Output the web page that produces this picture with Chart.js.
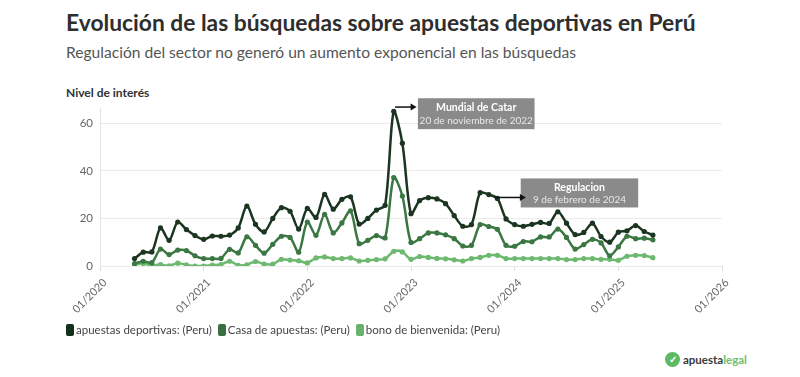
<!DOCTYPE html>
<html lang="es">
<head>
<meta charset="utf-8">
<title>Evolución de las búsquedas sobre apuestas deportivas en Perú</title>
<script src="https://cdn.jsdelivr.net/npm/chart.js@4.4.1/dist/chart.umd.min.js"></script>
<style>
  html, body { margin: 0; padding: 0; background: #fff; }
  body { width: 800px; height: 377px; position: relative; overflow: hidden;
         font-family: Lato, "Open Sans", sans-serif; color: #333; }
  .title { position: absolute; left: 66px; top: 8px; font-size: 22.8px; font-weight: 700;
           color: #2e2e2e; white-space: nowrap; }
  .subtitle { position: absolute; left: 66px; top: 43px; font-size: 15.6px; color: #555; white-space: nowrap; }
  .axis-title { position: absolute; left: 66px; top: 85px; font-size: 12px; font-weight: 700; color: #333; }
  .chart-box { position: absolute; left: 0; top: 0; width: 800px; height: 330px; }
  .legend { position: absolute; left: 66px; top: 323px; display: flex; font-size: 11.5px; color: #444; }
  .legend span { display: flex; align-items: center; margin-right: 6px; white-space: nowrap; }
  .legend i { display: inline-block; width: 8px; height: 12px; border-radius: 2px; margin-right: 2px; }
  .logo { position: absolute; left: 665px; top: 352px; display: flex; align-items: center;
          font-size: 11.5px; font-weight: 700; }
  .logo b { display: inline-block; width: 15px; height: 15px; border-radius: 50%; background: #5db962;
            color: #fff; font-size: 10px; line-height: 15px; text-align: center; margin-right: 3px; }
  .logo .a { color: #3a3a3a; }
  .logo .l { color: #6cc072; }
</style>
</head>
<body>
<div class="title">Evolución de las búsquedas sobre apuestas deportivas en Perú</div>
<div class="subtitle">Regulación del sector no generó un aumento exponencial en las búsquedas</div>
<div class="axis-title">Nivel de interés</div>
<div class="chart-box"><canvas id="chart"></canvas></div>
<div class="legend" id="legend"></div>
<div class="logo"><b>&#10003;</b><span class="a">apuesta</span><span class="l">legal</span></div>

<script>
// ---- data (monthly Google Trends style interest) ----
var months = [
  "2020-05", "2020-06", "2020-07", "2020-08", "2020-09", "2020-10", "2020-11", "2020-12",
  "2021-01", "2021-02", "2021-03", "2021-04", "2021-05", "2021-06", "2021-07", "2021-08", "2021-09", "2021-10", "2021-11", "2021-12",
  "2022-01", "2022-02", "2022-03", "2022-04", "2022-05", "2022-06", "2022-07", "2022-08", "2022-09", "2022-10", "2022-11", "2022-12",
  "2023-01", "2023-02", "2023-03", "2023-04", "2023-05", "2023-06", "2023-07", "2023-08", "2023-09", "2023-10", "2023-11", "2023-12",
  "2024-01", "2024-02", "2024-03", "2024-04", "2024-05", "2024-06", "2024-07", "2024-08", "2024-09", "2024-10", "2024-11", "2024-12",
  "2025-01", "2025-02", "2025-03", "2025-04", "2025-05"
];

var apuestasDeportivas = [
  3.1, 5.8, 5.9, 16, 10.8, 18.5, 15.3, 12.8,
  11.2, 12.6, 12.5, 13, 16, 25.2, 17.5, 14.3, 20, 24.5, 23, 15.5,
  24.2, 20.4, 30.1, 23.9, 28, 29.1, 17.6, 20, 23.5, 25.5, 65, 51.6,
  22, 27.5, 28.7, 28.2, 26.2, 21.2, 16.7, 17.4, 30.8, 30, 28.4, 19.8,
  17.4, 16.7, 17.5, 18.3, 17.9, 22.8, 18, 13.2, 14.1, 18, 12.4, 10,
  14.2, 14.8, 17, 14.5, 13
];

var casaDeApuestas = [
  1.0, 2.0, 1.4, 7.1, 4.8, 6.7, 6.5, 4.3,
  3.1, 3.1, 3.2, 7.0, 5.5, 12.3, 8.7, 5.4, 9.1, 12.5, 12, 5.8,
  18.5, 12.9, 21.7, 13.9, 18.1, 23.2, 9.4, 10.8, 12.8, 11.8, 37.2, 29.4,
  9.9, 11.5, 13.9, 13.9, 13.1, 11.5, 8.4, 8.7, 17.4, 16.6, 15.4, 8.7,
  8.3, 10.3, 10.2, 12.2, 12.2, 15.5, 12, 7.1, 9, 11.2, 9.7, 4.3,
  8.0, 12.5, 11.5, 11.7, 11
];

var bonoDeBienvenida = [
  0.6, 1.0, 0.3, 0.6, 0.1, 1.2, 0.5, 0.0,
  0.0, 0.4, 0.6, 2.0, 0.3, 0.5, 1.9, 0.8, 0.8, 2.8, 2.5, 2.2,
  1.3, 3.4, 3.8, 3.1, 3.1, 3.4, 2.1, 2.4, 2.7, 3.0, 6.2, 5.9,
  2.8, 4.0, 3.6, 3.2, 3.0, 2.6, 2.1, 3.1, 3.6, 4.5, 4.5, 3.1,
  3.1, 3.1, 3.1, 3.1, 3.1, 3.1, 2.7, 2.7, 3.1, 3.1, 2.8, 2.8,
  2.4, 4.1, 4.5, 4.4, 3.5
];

var seriesNames = ["apuestas deportivas: (Peru)", "Casa de apuestas: (Peru)", "bono de bienvenida: (Peru)"];
var xTickLabels = ["01/2020", "01/2021", "01/2022", "01/2023", "01/2024", "01/2025", "01/2026"];
var yTicks = [0, 20, 40, 60];

// ---- styling ----
var colors = ["#1b3520", "#3b7742", "#6cb96f"];
var legendColors = ["#15301a", "#3a6e40", "#68b36b"];
var gridColor = "#ebebeb";
var tickColor = "#666";
var FONT = "Lato, 'Open Sans', sans-serif";

// annotations, in data units (x = months since 01/2020, y = interest)
var notes = [
  { title: "Mundial de Catar", date: "20 de noviembre de 2022",
    from: [34.15, 66.8], to: [36.65, 66.8], box: [36.8, 70.5, 50.3, 57.5] },
  { title: "Regulacion", date: "9 de febrero de 2024",
    from: [45.7, 28.8], to: [49.3, 28.8], box: [48.7, 36.8, 62.3, 24.6] }
];

function monthIndex(s) {
  var p = s.split("-");
  return (parseInt(p[0], 10) - 2020) * 12 + parseInt(p[1], 10) - 1;
}

function toPoints(values) {
  return values.map(function (v, i) { return { x: monthIndex(months[i]), y: v }; });
}

var allSeries = [apuestasDeportivas, casaDeApuestas, bonoDeBienvenida];
var datasets = allSeries.map(function (vals, i) {
  return {
    label: seriesNames[i],
    data: toPoints(vals),
    borderColor: colors[i],
    backgroundColor: colors[i],
    borderWidth: 2.5,
    pointRadius: 2.6,
    pointHoverRadius: 3,
    pointBorderWidth: 0,
    tension: 0.3
  };
});

// legend (html)
var legendEl = document.getElementById("legend");
seriesNames.forEach(function (name, i) {
  var s = document.createElement("span");
  s.innerHTML = '<i style="background:' + legendColors[i] + '"></i>' + name;
  legendEl.appendChild(s);
});

var notesPlugin = {
  id: "notes",
  afterDatasetsDraw: function (chart) {
    var ctx = chart.ctx, xs = chart.scales.x, ys = chart.scales.y;
    ctx.save();
    notes.forEach(function (n) {
      var bx1 = xs.getPixelForValue(n.box[0]), by1 = ys.getPixelForValue(n.box[1]);
      var bx2 = xs.getPixelForValue(n.box[2]), by2 = ys.getPixelForValue(n.box[3]);
      ctx.fillStyle = "rgba(128,128,128,0.92)";
      ctx.fillRect(bx1, by1, bx2 - bx1, by2 - by1);

      var cx = (bx1 + bx2) / 2, h = by2 - by1;
      ctx.textAlign = "center";
      ctx.textBaseline = "middle";
      ctx.fillStyle = "#fff";
      ctx.font = "700 10.5px " + FONT;
      ctx.fillText(n.title, cx, by1 + h * 0.3);
      ctx.fillStyle = "#e9e9e9";
      ctx.font = "400 10px " + FONT;
      ctx.fillText(n.date, cx, by1 + h * 0.74);

      // arrow
      var ax1 = xs.getPixelForValue(n.from[0]), ay = ys.getPixelForValue(n.from[1]);
      var ax2 = xs.getPixelForValue(n.to[0]);
      ctx.strokeStyle = "#111";
      ctx.fillStyle = "#111";
      ctx.lineWidth = 1.5;
      ctx.beginPath();
      ctx.moveTo(ax1, ay);
      ctx.lineTo(ax2 - 4, ay);
      ctx.stroke();
      ctx.beginPath();
      ctx.moveTo(ax2, ay);
      ctx.lineTo(ax2 - 6, ay - 3.5);
      ctx.lineTo(ax2 - 6, ay + 3.5);
      ctx.closePath();
      ctx.fill();
    });
    ctx.restore();
  }
};

new Chart(document.getElementById("chart").getContext("2d"), {
  type: "line",
  data: { datasets: datasets },
  options: {
    responsive: true,
    maintainAspectRatio: false,
    animation: false,
    layout: { padding: { top: 108, right: 78, bottom: 0, left: 60 } },
    plugins: { legend: { display: false }, tooltip: { enabled: false } },
    scales: {
      x: {
        type: "linear",
        min: 0,
        max: (xTickLabels.length - 1) * 12,
        afterBuildTicks: function (scale) {
          scale.ticks = xTickLabels.map(function (_, i) { return { value: i * 12 }; });
        },
        afterFit: function (scale) { scale.height = 64; },
        ticks: {
          autoSkip: false,
          minRotation: 45,
          maxRotation: 45,
          padding: 5,
          labelOffset: 5,
          color: tickColor,
          font: { family: FONT, size: 11 },
          callback: function (v) { return xTickLabels[Math.round(v / 12)]; }
        },
        grid: { drawOnChartArea: false, drawTicks: true, tickLength: 5, color: "#dcdcdc" },
        border: { display: false }
      },
      y: {
        min: 0,
        max: 66.4,
        bounds: "data",
        afterBuildTicks: function (scale) {
          scale.ticks = yTicks.map(function (v) { return { value: v }; });
        },
        afterFit: function (scale) { scale.width = 40; },
        ticks: { padding: 7, color: tickColor, font: { family: FONT, size: 11.5 } },
        grid: { color: gridColor, drawTicks: false },
        border: { display: true, color: "#e4e4e4" }
      }
    }
  },
  plugins: [notesPlugin]
});
</script>
</body>
</html>
